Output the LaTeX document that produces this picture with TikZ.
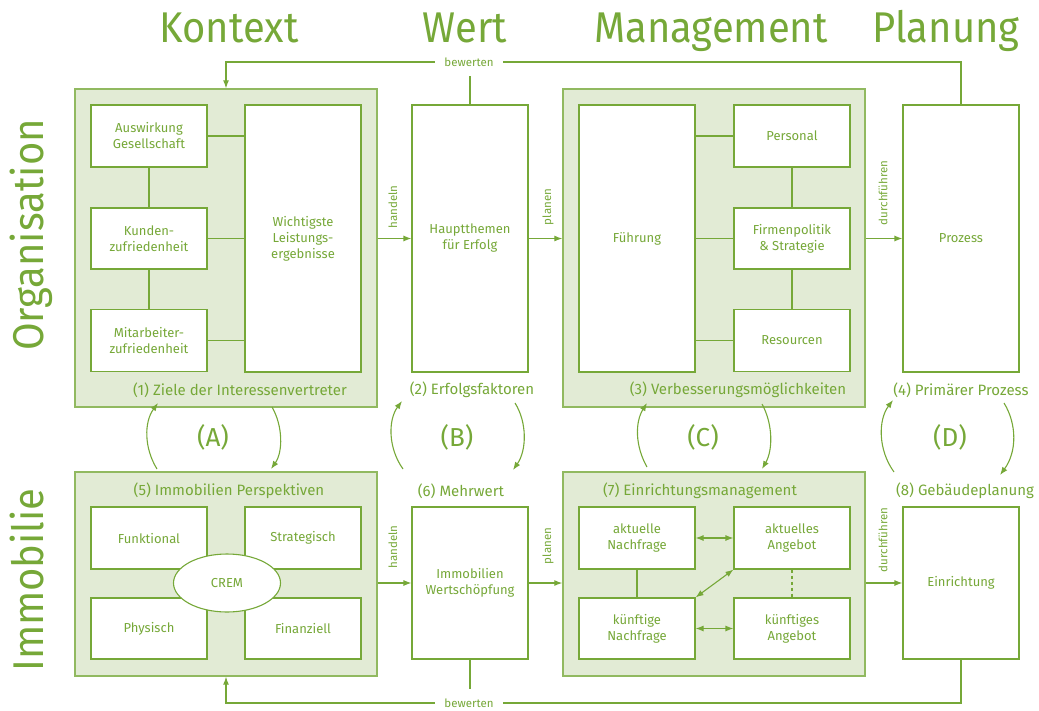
\documentclass[tikz,border=0pt]{standalone}
\usepackage{fontspec}
\setmainfont{Fira Sans}
\newfontfamily\titlefont[FakeStretch=0.93]{Fira Sans}
\usetikzlibrary{arrows.meta,shapes.geometric}
\definecolor{gr}{RGB}{118,168,56}
\definecolor{gf}{RGB}{226,235,213}
\begin{document}
\begin{tikzpicture}[x=1pt,y=-1pt,
  panel/.style={draw=gr!80, fill=gf, line width=1.4pt, inner sep=0},
  box/.style={draw=gr, fill=white, line width=1.1pt, inner sep=0, align=center, text=gr, font=\fontsize{13}{16}\selectfont},
  lab/.style={text=gr, font=\fontsize{15}{18}\selectfont},
  ttl/.style={text=gr, font=\titlefont\fontsize{43}{50}\selectfont},
  sml/.style={text=gr, font=\fontsize{11.5}{13}\selectfont},
  big/.style={text=gr, font=\fontsize{26}{30}\selectfont},
  ln/.style={draw=gr, line width=1.1pt},
  arr/.style={ln, -{Latex[length=8pt,width=6pt]}},
  darr/.style={ln, {Latex[length=8pt,width=6pt]}-{Latex[length=8pt,width=6pt]}}
]
\useasboundingbox (0,0) rectangle (1039,710);
% titles
\node[ttl, anchor=base] (tK) at (229,42) {Kontext};
\node[ttl, anchor=base] (tW) at (465,42) {Wert};
\node[ttl, anchor=base] (tM) at (711,42) {Management};
\node[ttl, anchor=base] (tP) at (946,42) {Planung};
\node[ttl, anchor=base, rotate=90] (tO) at (43,235) {Organisation};
\node[ttl, anchor=base, rotate=90] (tI) at (43,580) {Immobilie};

% panels top
\node[panel, minimum width=302, minimum height=318] (p1) at (226,248) {};
\node[panel, minimum width=302, minimum height=318] (p3) at (714,248) {};
% panels bottom
\node[panel, minimum width=302, minimum height=204] (p5) at (226,574) {};
\node[panel, minimum width=302, minimum height=204] (p7) at (714,574) {};

% panel 1
\node[box, minimum width=116, minimum height=62] (aus) at (149,136) {Auswirkung\\Gesellschaft};
\node[box, minimum width=116, minimum height=61] (kun) at (149,238.5) {Kunden-\\zufriedenheit};
\node[box, minimum width=116, minimum height=62] (mit) at (149,340.5) {Mitarbeiter-\\zufriedenheit};
\node[box, minimum width=116, minimum height=267] (wich) at (303,238.5) {Wichtigste\\Leistungs-\\ergebnisse};
\draw[ln] (aus) -- (kun) -- (mit);
\draw[ln] (aus.east) -- (aus.east -| wich.west);
\draw[ln] (kun.east) -- (kun.east -| wich.west);
\draw[ln] (mit.east) -- (mit.east -| wich.west);
\node[lab] (l1) at (240,390) {(1) Ziele der Interessenvertreter};

% Wert top
\node[box, minimum width=116, minimum height=267] (haupt) at (470,238.5) {Hauptthemen\\für Erfolg};
\node[lab] (l2) at (472,390) {(2) Erfolgsfaktoren};

% panel 3
\node[box, minimum width=116, minimum height=267] (fuehr) at (637,238.5) {Führung};
\node[box, minimum width=116, minimum height=62] (pers) at (792,136) {Personal};
\node[box, minimum width=116, minimum height=61] (firm) at (792,238.5) {Firmenpolitik\\\& Strategie};
\node[box, minimum width=116, minimum height=62] (res) at (792,340.5) {Resourcen};
\draw[ln] (pers) -- (firm) -- (res);
\draw[ln] (fuehr.east |- pers.west) -- (pers.west);
\draw[ln] (fuehr.east |- firm.west) -- (firm.west);
\draw[ln] (fuehr.east |- res.west) -- (res.west);
\node[lab] (l3) at (738,390) {(3) Verbesserungsmöglichkeiten};

% Planung top
\node[box, minimum width=116, minimum height=267] (proz) at (961,238.5) {Prozess};
\node[lab] (l4) at (961,390) {(4) Primärer Prozess};

% top connectors
\draw[arr] (haupt.west -| p1.east) -- (haupt.west);
\node[sml, rotate=90] (h1) at (393,207) {handeln};
\draw[arr] (haupt.east) -- (haupt.east -| p3.west);
\node[sml, rotate=90] (pl1) at (548,207) {planen};
\draw[arr] (proz.west -| p3.east) -- (proz.west);
\node[sml, rotate=90] (d1) at (883,193) {durchführen};

\coordinate (bwT) at (469,62);
\coordinate (bwTs) at (0,76);
\draw[arr] (proz.north) |- (bwT) -| (p1.north);
\node[sml, fill=white, inner xsep=9pt, inner ysep=2pt] (bw1) at (bwT) {bewerten};
\draw[ln] (haupt.north) -- (haupt.north |- bwTs);

% panel 5
\node[box, minimum width=116, minimum height=62] (funk) at (149,538) {Funktional};
\node[box, minimum width=116, minimum height=62] (strat) at (303,538) {Strategisch};
\node[box, minimum width=116, minimum height=61] (phys) at (149,628.5) {Physisch};
\node[box, minimum width=116, minimum height=61] (fin) at (303,628.5) {Finanziell};
\node[box, ellipse, minimum width=107, minimum height=58] (crem) at (227,583) {CREM};
\node[lab] (l5) at (229,491) {(5) Immobilien Perspektiven};

% Wert bottom
\node[box, minimum width=116, minimum height=152] (immo) at (470,583) {Immobilien\\Wertschöpfung};
\node[lab] (l6) at (461,491) {(6) Mehrwert};

% panel 7
\node[box, minimum width=116, minimum height=62] (an) at (637,538) {aktuelle\\Nachfrage};
\node[box, minimum width=116, minimum height=62] (aa) at (792,538) {aktuelles\\Angebot};
\node[box, minimum width=116, minimum height=61] (kn) at (637,628.5) {künftige\\Nachfrage};
\node[box, minimum width=116, minimum height=61] (ka) at (792,628.5) {künftiges\\Angebot};
\draw[darr] (an.east) -- (aa.west);
\draw[darr] (kn.east) -- (ka.west);
\draw[darr] (kn.north east) -- (aa.south west);
\draw[ln] (an) -- (kn);
\draw[ln, dashed] (aa) -- (ka);
\node[lab] (l7) at (700,491) {(7) Einrichtungsmanagement};

% Planung bottom
\node[box, minimum width=116, minimum height=152] (einr) at (961,583) {Einrichtung};
\node[lab] (l8) at (965,491) {(8) Gebäudeplanung};

% bottom connectors
\draw[arr] (immo.west -| p5.east) -- (immo.west);
\node[sml, rotate=90] (h2) at (393,547) {handeln};
\draw[arr] (immo.east) -- (immo.east -| p7.west);
\node[sml, rotate=90] (pl2) at (548,546) {planen};
\draw[arr] (einr.west -| p7.east) -- (einr.west);
\node[sml, rotate=90] (d2) at (883,540) {durchführen};

\coordinate (bwB) at (469,703);
\coordinate (bwBs) at (0,689);
\draw[arr] (einr.south) |- (bwB) -| (p5.south);
\node[sml, fill=white, inner xsep=9pt, inner ysep=2pt] (bw2) at (bwB) {bewerten};
\draw[ln] (immo.south) -- (immo.south |- bwBs);

% cycle arrows
\coordinate (a1s) at (157,469); \coordinate (a1e) at (158,403);
\coordinate (a2s) at (272,407); \coordinate (a2e) at (271,469);
\draw[arr] (a1s) .. controls (144,448) and (144,422) .. (a1e);
\draw[arr] (a2s) .. controls (283,426) and (283,452) .. (a2e);
\node[big] (cA) at (213,437) {(A)};

\coordinate (b1s) at (403,469); \coordinate (b1e) at (402,401);
\coordinate (b2s) at (515,403); \coordinate (b2e) at (513,470);
\draw[arr] (b1s) .. controls (388,448) and (388,420) .. (b1e);
\draw[arr] (b2s) .. controls (527,422) and (527,450) .. (b2e);
\node[big] (cB) at (457,437) {(B)};

\coordinate (c1s) at (647,467); \coordinate (c1e) at (647,403);
\coordinate (c2s) at (762,404); \coordinate (c2e) at (762,469);
\draw[arr] (c1s) .. controls (635,446) and (635,422) .. (c1e);
\draw[arr] (c2s) .. controls (773,424) and (773,450) .. (c2e);
\node[big] (cC) at (703,437) {(C)};

\coordinate (d1s) at (894,472); \coordinate (d1e) at (893,400);
\coordinate (d2s) at (1004,403); \coordinate (d2e) at (1000,475);
\draw[arr] (d1s) .. controls (878,450) and (878,420) .. (d1e);
\draw[arr] (d2s) .. controls (1017,424) and (1017,452) .. (d2e);
\node[big] (cD) at (950,437) {(D)};
\end{tikzpicture}
\end{document}
